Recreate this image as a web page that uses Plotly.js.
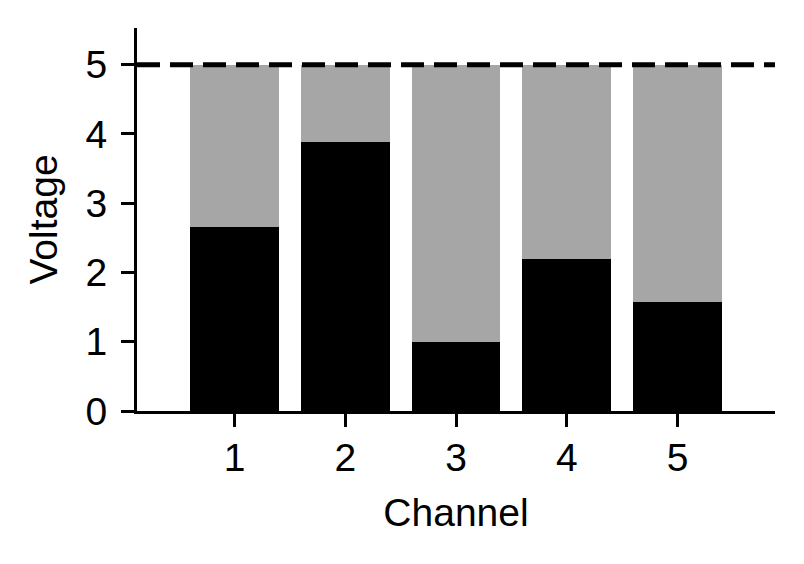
<!DOCTYPE html>
<html>
<head>
<meta charset="utf-8">
<script src="https://cdn.plot.ly/plotly-3.0.1.min.js"></script>
<style>
  html, body { margin: 0; padding: 0; background: #ffffff; }
  #chart { width: 804px; height: 564px; }
</style>
</head>
<body>
<div id="chart"></div>
<script>
// Data
const channels = [1, 2, 3, 4, 5];
const tickLabels = ['1', '2', '3', '4', '5'];
const measuredVoltage = [2.66, 3.89, 0.99, 2.20, 1.58];
const remainingVoltage = [2.34, 1.11, 4.01, 2.80, 3.42];
const maxVoltage = 5;
const yTicks = [0, 1, 2, 3, 4, 5];

const font = { family: 'Liberation Sans, Arial, sans-serif', size: 39, color: '#000000' };

const traces = [
  {
    type: 'bar',
    x: channels,
    y: measuredVoltage,
    marker: { color: '#000000', line: { width: 0 } },
    width: 0.8,
    hoverinfo: 'x+y',
    name: 'Measured'
  },
  {
    type: 'bar',
    x: channels,
    y: remainingVoltage,
    marker: { color: '#a6a6a6', line: { width: 0 } },
    width: 0.8,
    hoverinfo: 'x+y',
    name: 'Remaining'
  }
];

const layout = {
  width: 804,
  height: 564,
  barmode: 'stack',
  showlegend: false,
  paper_bgcolor: '#ffffff',
  plot_bgcolor: '#ffffff',
  font: font,
  margin: { l: 137, r: 29, t: 28, b: 152.5, pad: 0 },
  xaxis: {
    range: [0.12, 5.88],
    tickmode: 'array',
    tickvals: channels,
    ticktext: tickLabels,
    showgrid: false,
    zeroline: false,
    showline: true,
    linecolor: '#000000',
    linewidth: 3,
    ticks: 'outside',
    ticklen: 13,
    tickwidth: 3,
    tickcolor: '#000000',
    ticklabelstandoff: -3,
    tickfont: font,
    title: { text: 'Channel', font: font, standoff: 21 },
    automargin: false
  },
  yaxis: {
    range: [0, 5.53],
    tickmode: 'array',
    tickvals: yTicks,
    ticktext: yTicks.map(String),
    showgrid: false,
    zeroline: false,
    showline: true,
    linecolor: '#000000',
    linewidth: 3,
    ticks: 'outside',
    ticklen: 13,
    tickwidth: 3,
    tickcolor: '#000000',
    ticklabelstandoff: 6,
    tickfont: font,
    title: { text: 'Voltage', font: font, standoff: 16 },
    automargin: false
  },
  shapes: [
    {
      type: 'line',
      xref: 'paper',
      yref: 'y',
      x0: 0,
      x1: 1,
      y0: maxVoltage,
      y1: maxVoltage,
      line: { color: '#000000', width: 5, dash: '23px,10px' },
      layer: 'above'
    }
  ]
};

Plotly.newPlot('chart', traces, layout, { staticPlot: true, displayModeBar: false });
</script>
</body>
</html>
